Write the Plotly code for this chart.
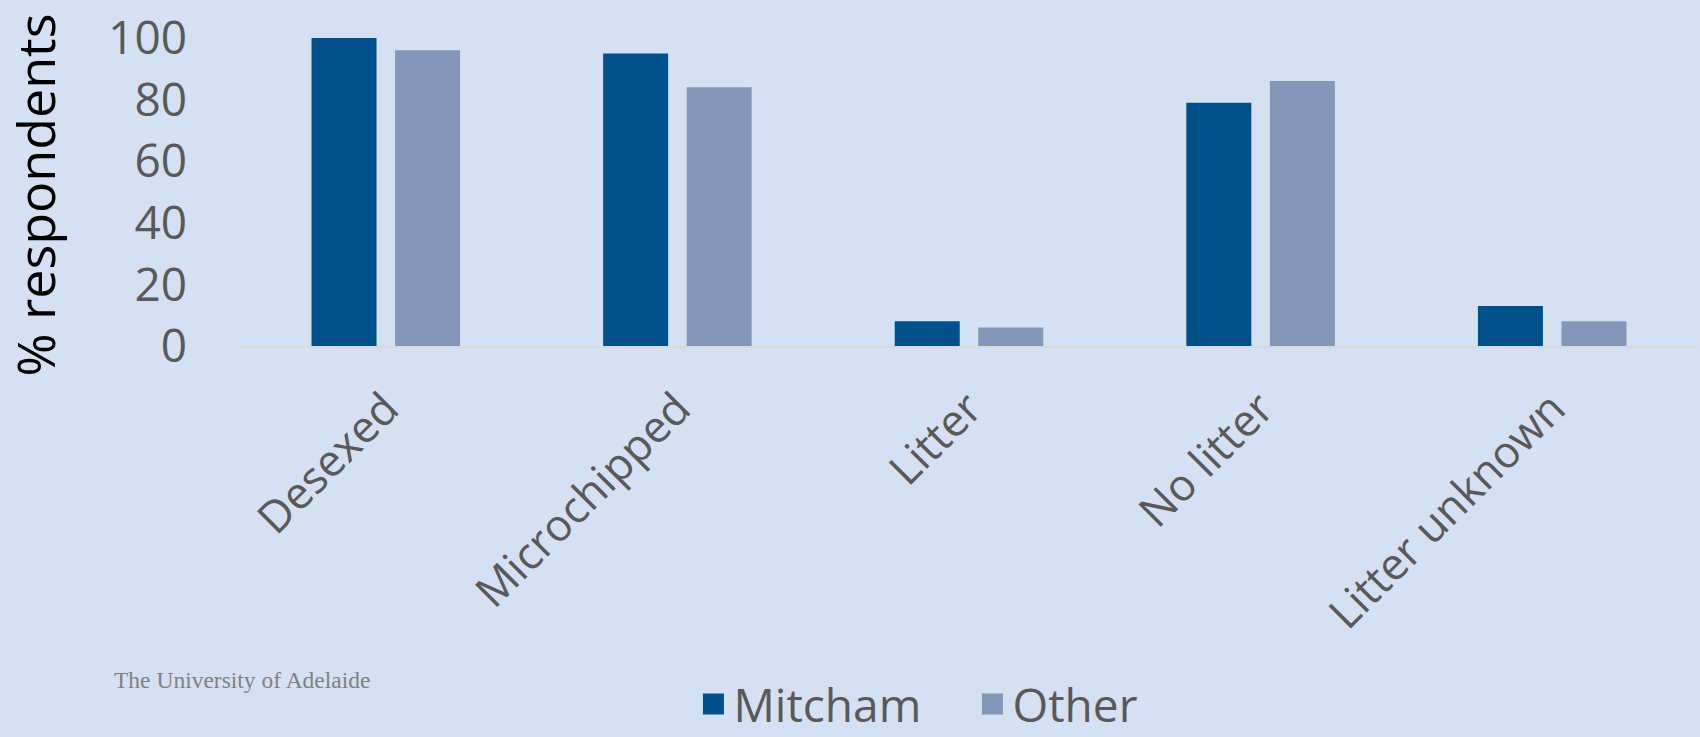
import plotly.graph_objects as go

categories = ['Desexed', 'Microchipped', 'Litter', 'No litter', 'Litter unknown']
mitcham = [100, 95, 8, 79, 13]
other = [96, 84, 6, 86, 8]

BG = '#D5E1F2'
TXT = '#595959'
C_MITCHAM = '#00508C'
C_OTHER = '#8497B9'

fig = go.Figure()

fig.add_trace(go.Bar(
    x=categories, y=mitcham, name='Mitcham', showlegend=False,
    marker=dict(color=C_MITCHAM, line=dict(width=0))
))

fig.add_trace(go.Bar(
    x=categories, y=other, name='Other', showlegend=False,
    marker=dict(color=C_OTHER, line=dict(width=0))
))

# legend entries only (bigger square swatches than the bar legend gives)
for name, col in [('Mitcham', C_MITCHAM), ('Other', C_OTHER)]:
    fig.add_trace(go.Scatter(
        x=[None], y=[None], mode='markers', name=name, hoverinfo='skip',
        marker=dict(symbol='square', size=16, color=col, line=dict(color=col, width=5))
    ))

fig.update_layout(
    width=1700, height=737,
    margin=dict(l=240, r=2, t=38, b=391, autoexpand=False),
    paper_bgcolor=BG, plot_bgcolor=BG,
    font=dict(family='Open Sans', color=TXT),
    barmode='group', bargap=0.427, bargroupgap=0.222,
    showlegend=True,
    legend=dict(
        orientation='h', x=0.311, xanchor='left', y=-1.163, yanchor='middle',
        font=dict(size=46, color=TXT), bgcolor='rgba(0,0,0,0)',
        entrywidth=234, entrywidthmode='pixels',
        itemsizing='trace', traceorder='normal'
    ),
    xaxis=dict(
        showline=True, linecolor='#D9D9D9', linewidth=2, automargin=False,
        showgrid=False, ticks='', tickangle=-45,
        tickfont=dict(size=44, color=TXT), ticklabelstandoff=17
    ),
    yaxis=dict(
        range=[0, 100], dtick=20, showgrid=False, zeroline=False, automargin=False,
        showline=False, ticks='', tickfont=dict(size=46, color=TXT),
        ticklabelstandoff=52
    ),
    annotations=[
        dict(text='% respondents', textangle=-90, xref='paper', yref='paper',
             x=-0.141, y=0.49, xanchor='center', yanchor='middle', showarrow=False,
             font=dict(size=52, color='#000000', family='Open Sans')),
        dict(text='The University of Adelaide', xref='paper', yref='paper',
             x=-0.088, y=-1.084, xanchor='left', yanchor='middle', showarrow=False,
             font=dict(size=23.5, color='#808080', family='Liberation Serif')),
    ]
)

fig.write_html("out.html", config={'displayModeBar': False},
               post_script="document.body.style.margin='0';")
